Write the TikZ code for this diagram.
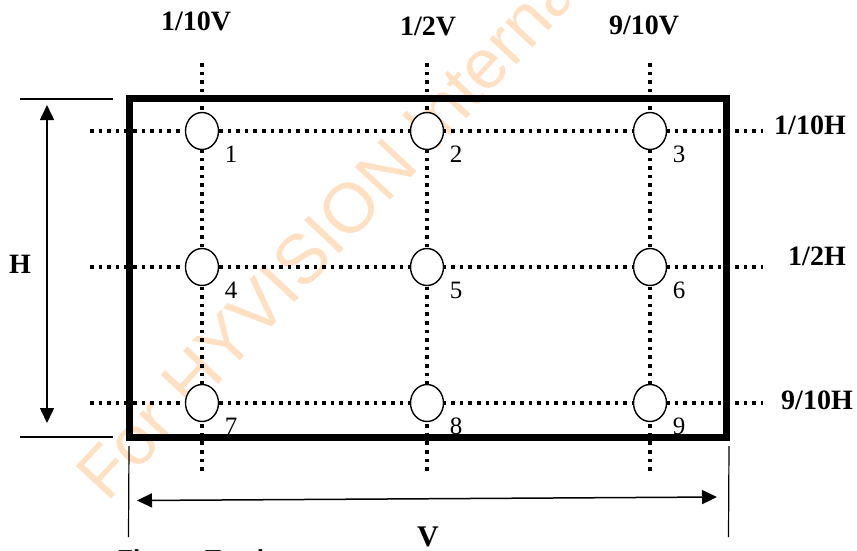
\documentclass[tikz,border=0pt]{standalone}
\usepackage{fontspec}
\setmainfont{Liberation Serif}
\newfontfamily\stampfont{Liberation Sans}
\usetikzlibrary{arrows.meta}
\usetikzlibrary{shapes.geometric}

\begin{document}
\begin{tikzpicture}[x=1pt, y=-1pt,
	every node/.style={inner sep=0pt},
	grid/.style={line width=3.6pt, dash pattern=on 3.6pt off 5pt},
	spot/.style={ellipse, draw, line width=1.4pt, fill=white, minimum width=33pt, minimum height=37pt},
	num/.style={font=\fontsize{25}{27}\selectfont},
	lbl/.style={font=\fontsize{28}{30}\selectfont\bfseries},
	dim/.style={line width=1.5pt, {Triangle[length=15pt, width=14pt]}-{Triangle[length=15pt, width=14pt]}},
	ext/.style={line width=1.2pt}]

		\useasboundingbox (0,0) rectangle (857,550);

		% watermark
		\node[rotate=47, text=orange!24, font=\stampfont\fontsize{70}{72}\selectfont] (stamp) at (332,226) {For HYVISION Internal};

		% grid of test points
		\def\rowY{{131,267,403}}
		\def\colX{{202,427,650}}
		\foreach \c in {0,1,2}{
			\pgfmathsetmacro{\xx}{\colX[\c]}
			\coordinate (vt\c) at (\xx,63);
			\coordinate (vb\c) at (\xx,472);
			\draw[grid] (vt\c) -- (vb\c);
		}
		\foreach \r in {0,1,2}{
			\pgfmathsetmacro{\yy}{\rowY[\r]}
			\coordinate (hl\r) at (90,\yy);
			\coordinate (hr\r) at (763,\yy);
			\draw[grid] (hl\r) -- (hr\r);
		}
		\foreach \r in {0,1,2}{
			\foreach \c in {0,1,2}{
				\pgfmathtruncatemacro{\n}{3*\r+\c+1}
				\pgfmathsetmacro{\xx}{\colX[\c]}
				\pgfmathsetmacro{\yy}{\rowY[\r]}
				\node[spot] (p\n) at (\xx,\yy) {};
				\node[num] (n\n) at ([shift={(29,23)}]p\n.center) {\n};
			}
		}

		% panel outline
		\coordinate (nw) at (129.5,98);
		\coordinate (se) at (726,437);
		\draw[line width=7pt] (nw) rectangle (se);

		% H dimension
		\coordinate (ht1) at (20,99);   \coordinate (ht2) at (113,99);
		\coordinate (hb1) at (20,437);  \coordinate (hb2) at (113,437);
		\draw[ext] (ht1) -- (ht2);
		\draw[ext] (hb1) -- (hb2);
		\coordinate (ha) at (47,105);
		\coordinate (hz) at (47,423);
		\draw[dim] (ha) -- (hz);
		\node[lbl] (hlab) at (20,264) {H};

		% V dimension
		\coordinate (vl1) at (129,446);  \coordinate (vl2) at (128.5,537);
		\coordinate (vr1) at (729,446);  \coordinate (vr2) at (728.5,537);
		\draw[ext] (vl1) -- (vl2);
		\draw[ext] (vr1) -- (vr2);
		\coordinate (va) at (137,500.5);
		\coordinate (vz) at (717,497);
		\draw[dim] (va) -- (vz);
		\node[lbl, font=\fontsize{30}{32}\selectfont\bfseries] (vlab) at (428,537) {V};

		% column and row labels
		\node[lbl] (c1) at (196,21) {1/10V};
		\node[lbl] (c2) at (428,26) {1/2V};
		\node[lbl] (c3) at (644,25) {9/10V};
		\node[lbl] (r1) at (810,125) {1/10H};
		\node[lbl] (r2) at (817,256) {1/2H};
		\node[lbl] (r3) at (817,400) {9/10H};

		% caption, cut by the page edge
		\node[anchor=base west, font=\stampfont\fontsize{26}{28}\selectfont\bfseries] (cap) at (117,568) {Five\hspace{36pt}Testing};
	\end{tikzpicture}
\end{document}
